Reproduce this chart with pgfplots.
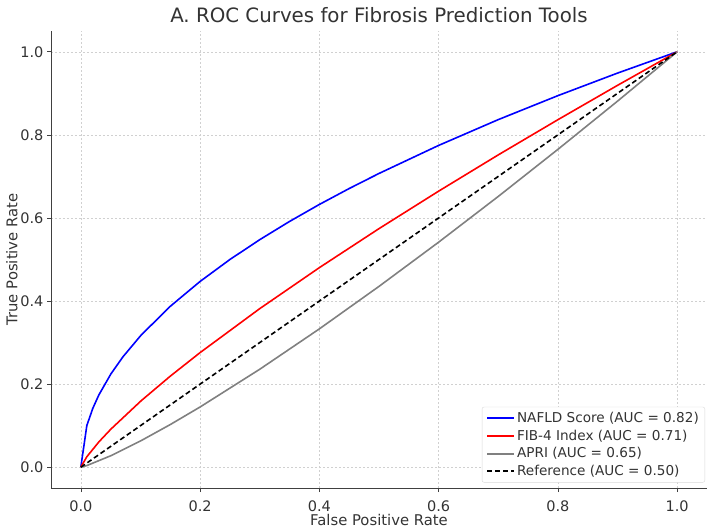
\documentclass[border=0pt]{standalone}
\usepackage{pgfplots}
\pgfplotsset{compat=1.18}
\usepackage{fontspec}
\setmainfont{DejaVu Sans}
\definecolor{txt}{HTML}{333333}
\definecolor{gridc}{HTML}{D0D0D0}
\definecolor{cblue}{HTML}{0000FF}
\definecolor{cred}{HTML}{FF0000}
\definecolor{cgray}{HTML}{808080}
\begin{document}
\begin{tikzpicture}
\begin{axis}[
  name=ax,
  scale only axis,
  width=656pt, height=457pt,
  xmin=-0.05, xmax=1.05, ymin=-0.05, ymax=1.05,
  axis lines*=left,
  axis line style={draw=black!75, line width=0.8pt},
  xtick={0,0.2,0.4,0.6,0.8,1.0},
  ytick={0,0.2,0.4,0.6,0.8,1.0},
  /pgf/number format/fixed,
  /pgf/number format/fixed zerofill,
  /pgf/number format/precision=1,
  /pgf/number format/assume math mode=true,
  ticklabel style={font=\fontsize{14.5}{17}\selectfont, text=txt},
  xticklabel style={yshift=-5pt},
  tick style={draw=black!75, line width=0.6pt},
  tick align=outside, major tick length=4pt,
  grid=major,
  major grid style={draw=gridc, dash pattern=on 2pt off 2pt, line width=0.5pt},
  title={A. ROC Curves for Fibrosis Prediction Tools},
  title style={font=\fontsize{19.8}{23}\selectfont, text=txt, yshift=-1pt},
  xlabel={False Positive Rate},
  ylabel={True Positive Rate},
  label style={font=\fontsize{14.8}{17}\selectfont, text=txt},
  xlabel style={yshift=4pt},
  ylabel style={yshift=-4pt},
  legend style={font=\fontsize{13.6}{16}\selectfont, draw=black!15, rounded corners=2pt, fill=white, inner xsep=4pt, inner ysep=3pt, row sep=2pt, at={(0.997,0.012)}, anchor=south east},
  legend cell align=left,
  legend image code/.code={\draw[#1] (0pt,0pt) -- (27pt,0pt);},
]
\addlegendimage{draw=cblue, line width=2pt}
\addlegendentry{\textcolor{txt}{NAFLD Score (AUC = 0.82)}}
\addlegendimage{draw=cred, line width=2pt}
\addlegendentry{\textcolor{txt}{FIB-4 Index (AUC = 0.71)}}
\addlegendimage{draw=cgray, line width=2pt}
\addlegendentry{\textcolor{txt}{APRI (AUC = 0.65)}}
\addlegendimage{draw=black, line width=2pt, dash pattern=on 5pt off 3pt}
\addlegendentry{\textcolor{txt}{Reference (AUC = 0.50)}}
\addplot[draw=cblue, line width=1.6pt, forget plot] coordinates {
(0,0) (0.0101,0.1005) (0.0202,0.1421) (0.0303,0.1741) (0.0505,0.2247) (0.0707,0.2659) (0.101,0.3178) (0.15,0.3873) (0.2,0.4472) (0.25,0.5) (0.3,0.5477) (0.35,0.5916) (0.4,0.6325) (0.45,0.6708) (0.5,0.7071) (0.6,0.7746) (0.7,0.8367) (0.8,0.8944) (0.9,0.9487) (1,1)};
\addplot[draw=cred, line width=1.6pt, forget plot] coordinates {
(0,0) (0.0101,0.0253) (0.0303,0.0610) (0.0505,0.0918) (0.101,0.1598) (0.15,0.2192) (0.2,0.2759) (0.3,0.3817) (0.4,0.4804) (0.5,0.5743) (0.6,0.6645) (0.7,0.7518) (0.8,0.8365) (0.9,0.9192) (1,1)};
\addplot[draw=cgray, line width=1.6pt, forget plot] coordinates {
(0,0) (0.0101,0.0040) (0.0505,0.0278) (0.101,0.0639) (0.15,0.1027) (0.2,0.1450) (0.3,0.2358) (0.4,0.3330) (0.5,0.4353) (0.6,0.5417) (0.7,0.6518) (0.8,0.7651) (0.9,0.8812) (1,1)};
\addplot[draw=black, line width=1.6pt, dash pattern=on 5pt off 3pt, forget plot] coordinates {(0,0) (1,1)};
\end{axis}
\pgfresetboundingbox
\path[use as bounding box] ([shift={(-51pt,-43pt)}]ax.south west) rectangle ([shift={(8pt,31pt)}]ax.north east);
\end{tikzpicture}
\end{document}
